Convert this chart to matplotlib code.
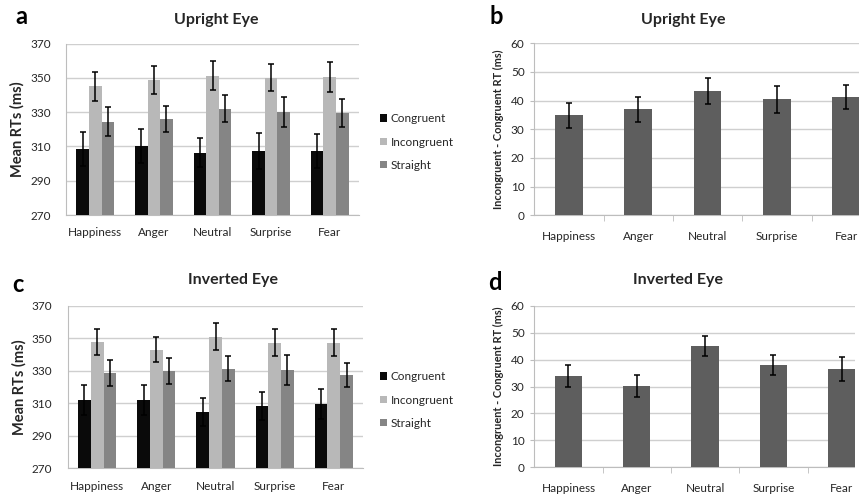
import matplotlib
matplotlib.use("Agg")
import matplotlib.pyplot as plt
import numpy as np
from matplotlib.patches import Rectangle

plt.rcParams['font.family'] = ['Lato', 'DejaVu Sans']

categories = ["Happiness", "Anger", "Neutral", "Surprise", "Fear"]
series_names = ["Congruent", "Incongruent", "Straight"]

# Panel a: Upright Eye, mean RTs
a_congruent = [308.5, 310.3, 306.4, 307.4, 307.4]
a_congruent_err = [9.7, 9.9, 8.6, 10.3, 9.7]
a_incongruent = [345.1, 349.0, 351.3, 350.2, 350.5]
a_incongruent_err = [8.3, 8.2, 8.6, 8.1, 8.6]
a_straight = [324.5, 326.0, 331.9, 330.1, 329.5]
a_straight_err = [8.3, 7.8, 7.9, 8.8, 8.4]

# Panel b: Upright Eye, incongruent - congruent
b_diff = [34.9, 37.0, 43.5, 40.5, 41.3]
b_diff_err = [4.4, 4.3, 4.5, 4.7, 4.3]

# Panel c: Inverted Eye, mean RTs
c_congruent = [312.1, 312.1, 304.5, 308.2, 309.4]
c_congruent_err = [9.2, 9.2, 8.4, 8.8, 9.3]
c_incongruent = [347.6, 342.9, 350.9, 347.2, 347.2]
c_incongruent_err = [7.8, 7.8, 8.2, 8.2, 8.2]
c_straight = [328.5, 329.8, 331.2, 330.4, 327.3]
c_straight_err = [8.2, 8.2, 7.8, 9.0, 7.4]

# Panel d: Inverted Eye, incongruent - congruent
d_diff = [34.0, 30.1, 45.0, 38.0, 36.6]
d_diff_err = [4.0, 4.0, 3.8, 3.7, 4.5]

rt_ticks = [270, 290, 310, 330, 350, 370]
diff_ticks = [0, 10, 20, 30, 40, 50, 60]

W, H = 859, 496
fig = plt.figure(figsize=(W / 100, H / 100), dpi=100)
fig.patch.set_facecolor('white')

def rect(l, r, t, b):
    return [l / W, (H - b) / H, (r - l) / W, (b - t) / H]

grid_c = '#cfcfcf'
spine_c = '#bdbdbd'
text_c = '#262626'
colors3 = ['#0a0a0a', '#b8b8b8', '#858585']
diff_color = '#5e5e5e'
tick_fs = 8.5

def rt_panel(pos, vals, errs, title, letter, lx, ly, tx, ty, leg_y):
    ax = fig.add_axes(pos)
    x = np.arange(len(categories))
    w = 0.215
    handles = []
    for i, (v, e) in enumerate(zip(vals, errs)):
        h = ax.bar(x + (i - 1) * w, v, width=w, bottom=0, color=colors3[i],
                   yerr=e, error_kw=dict(ecolor='black', elinewidth=1.1,
                                         capsize=2.2, capthick=1.1),
                   zorder=3, label=series_names[i])
        handles.append(h)
    ax.set_ylim(270, 370)
    ax.set_xlim(-0.5, len(categories) - 0.5)
    ax.set_yticks(rt_ticks)
    ax.set_xticks(x)
    ax.set_xticklabels(categories)
    ax.yaxis.grid(True, color=grid_c, linewidth=1, zorder=0)
    ax.set_axisbelow(True)
    for s in ['top', 'right']:
        ax.spines[s].set_visible(False)
    for s in ['left', 'bottom']:
        ax.spines[s].set_color(spine_c)
    ax.tick_params(axis='y', length=0, pad=11, labelsize=tick_fs, labelcolor=text_c)
    ax.tick_params(axis='x', length=0, pad=9, labelsize=tick_fs, labelcolor=text_c)
    ax.set_ylabel("Mean RTs (ms)", fontsize=10.5, fontweight='bold', labelpad=4,
                  color=text_c)
    fig.text(tx / W, 1 - ty / H, title, ha='center', va='center',
             fontsize=11.5, fontweight='bold', color=text_c)
    fig.text(lx / W, 1 - ly / H, letter, ha='center', va='center',
             fontsize=17, fontweight='bold')
    fig.legend(handles=handles, loc='center left',
               bbox_to_anchor=(374 / W, 1 - leg_y / H), frameon=False,
               fontsize=8.5, handlelength=0.6, handleheight=0.6,
               handletextpad=0.3, labelspacing=1.05, borderpad=0,
               labelcolor=text_c)
    return ax

def diff_panel(pos, vals, errs, title, letter, lx, ly, tx, ty):
    ax = fig.add_axes(pos)
    x = np.arange(len(categories))
    ax.bar(x, vals, width=0.4, color=diff_color, yerr=errs,
           error_kw=dict(ecolor='black', elinewidth=1.1, capsize=2.2,
                         capthick=1.1), zorder=3)
    ax.set_ylim(0, 60)
    ax.set_xlim(-0.5, len(categories) - 0.5)
    ax.set_yticks(diff_ticks)
    ax.set_xticks(x)
    ax.set_xticklabels(categories)
    ax.set_xticks(np.arange(0.5, len(categories) - 0.5, 1.0), minor=True)
    ax.yaxis.grid(True, color=grid_c, linewidth=1, zorder=0)
    ax.set_axisbelow(True)
    for s in ['top', 'right']:
        ax.spines[s].set_visible(False)
    for s in ['left', 'bottom']:
        ax.spines[s].set_color(spine_c)
    ax.tick_params(axis='y', length=3, color=spine_c, pad=4, labelsize=tick_fs,
                   labelcolor=text_c)
    ax.tick_params(axis='x', which='major', length=0, pad=11, labelsize=tick_fs,
                   labelcolor=text_c)
    ax.tick_params(axis='x', which='minor', length=4, color=spine_c)
    ax.set_ylabel("Incongruent - Congruent RT (ms)", fontsize=7.9,
                  fontweight='bold', labelpad=5, color=text_c)
    fig.text(tx / W, 1 - ty / H, title, ha='center', va='center',
             fontsize=11.5, fontweight='bold', color=text_c)
    fig.text(lx / W, 1 - ly / H, letter, ha='center', va='center',
             fontsize=17, fontweight='bold')
    return ax

rt_panel(rect(66, 359, 43.7, 215),
         [a_congruent, a_incongruent, a_straight],
         [a_congruent_err, a_incongruent_err, a_straight_err],
         "Upright Eye", "a", 21, 17, 216, 20, 142)
diff_panel(rect(534.3, 880.8, 43.3, 215.3), b_diff, b_diff_err,
           "Upright Eye", "b", 496, 17, 683, 20)
rt_panel(rect(67.6, 363.4, 305.7, 468),
         [c_congruent, c_incongruent, c_straight],
         [c_congruent_err, c_incongruent_err, c_straight_err],
         "Inverted Eye", "c", 18, 285, 233, 280, 400)
diff_panel(rect(534.3, 876, 305.7, 467.3), d_diff, d_diff_err,
           "Inverted Eye", "d", 495, 283, 678, 280)

# white margin at the right of panel d (the original was cropped there)
fig.patches.append(Rectangle((855 / W, 0), 4 / W, 0.45, transform=fig.transFigure,
                             facecolor='white', edgecolor='none', zorder=10))

fig.savefig("out.png", dpi=100)
